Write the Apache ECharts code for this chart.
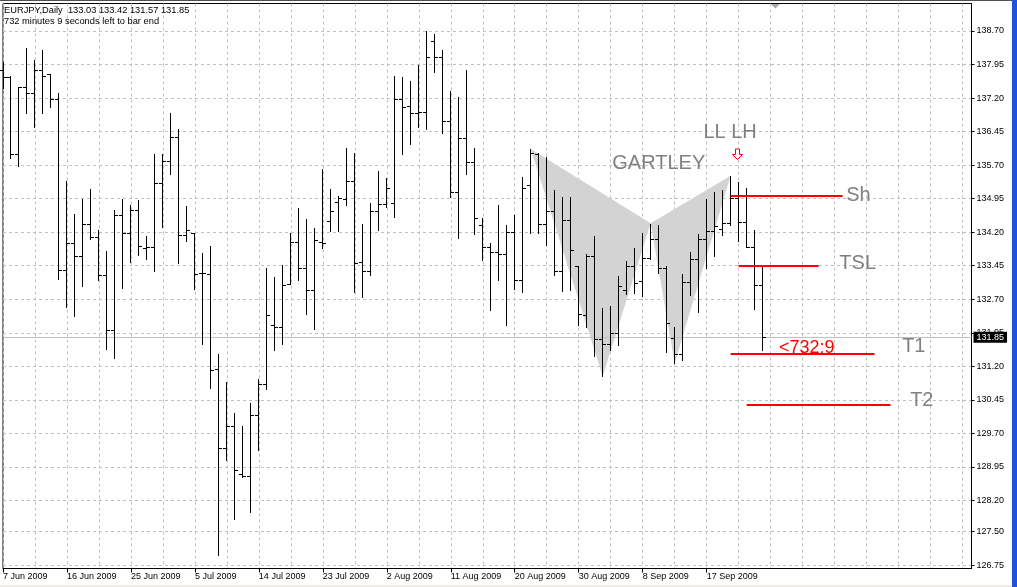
<!DOCTYPE html>
<html><head><meta charset="utf-8">
<script src="https://cdn.jsdelivr.net/npm/echarts@6/dist/echarts.min.js"></script>
<style>html,body{margin:0;padding:0;background:#fff;overflow:hidden}#c{width:1017px;height:587px}</style>
</head><body><div id="c"></div>
<script>
// ---------------- data ----------------
const symbolName = 'EURJPY,Daily';
const countdownText = '732 minutes 9 seconds left to bar end';
const dateLabels = ['7 Jun 2009','16 Jun 2009','25 Jun 2009','5 Jul 2009','14 Jul 2009','23 Jul 2009',
  '2 Aug 2009','11 Aug 2009','20 Aug 2009','30 Aug 2009','8 Sep 2009','17 Sep 2009'];
const barOpen = [
137.83,137.68,135.95,137.44,137.31,137.83,137.74,137.18,133.35,133.96,
133.66,134.39,134.09,133.25,132.02,134.58,134.19,134.69,133.84,133.87,
135.30,135.80,136.32,134.13,134.19,133.29,133.27,131.13,129.38,129.87,
128.79,128.75,130.12,130.81,132.12,132.09,133.05,133.97,133.40,132.90,
133.98,134.45,134.87,134.95,135.34,133.53,133.33,134.68,134.84,134.86,
137.19,137.02,136.86,136.89,138.47,138.11,136.68,135.11,136.31,135.76,
134.37,133.86,133.75,133.72,134.21,133.12,135.25,135.96,134.39,134.67,
133.33,134.48,133.44,132.34,133.66,131.82,131.71,131.95,132.90,133.45,
133.10,133.62,134.04,133.39,131.83,131.48,133.09,133.60,134.04,134.23,
134.27,134.40,134.96,134.42,133.86,133.03];
const barHigh = [
138.01,137.69,137.44,138.31,138.05,138.27,137.74,137.31,135.34,134.60,
134.95,135.16,134.24,133.77,134.69,134.95,134.80,134.92,134.11,135.95,
135.95,136.87,136.51,134.78,134.19,133.74,133.89,131.48,130.86,130.15,
129.87,130.39,130.92,133.40,133.20,133.46,134.18,134.73,134.49,134.30,
135.61,135.16,135.01,136.08,135.97,134.39,134.86,135.57,135.42,137.69,
137.66,137.58,137.94,138.70,138.63,138.27,137.36,137.23,137.83,136.08,
134.51,133.95,134.80,134.36,134.58,135.44,136.06,135.98,135.89,135.14,
134.99,134.99,133.44,133.71,134.11,132.51,132.54,133.21,133.55,133.84,
134.19,134.39,134.36,133.44,132.07,133.27,133.76,134.17,134.95,135.10,
135.14,135.46,135.33,135.18,134.26,133.42];
const barLow = [
137.42,135.85,135.68,136.87,136.56,136.87,137.01,133.16,132.53,132.32,
132.99,134.04,133.12,131.58,131.39,132.95,133.53,133.68,133.60,133.33,
134.32,135.51,133.50,134.01,132.92,131.69,130.71,126.97,129.10,127.78,
128.73,127.95,129.33,130.70,131.56,131.69,133.05,133.12,132.36,132.04,
133.84,134.22,134.23,134.80,132.86,132.75,133.25,134.26,134.77,134.54,
135.95,136.17,136.56,136.50,137.79,136.42,134.99,134.06,135.51,134.17,
133.57,132.45,133.12,132.12,132.92,132.86,134.18,134.18,133.91,133.24,
132.89,132.90,132.12,132.08,131.43,130.98,131.57,131.67,132.81,132.83,
132.77,133.61,133.29,131.52,131.27,131.35,132.79,132.42,133.39,133.66,
134.13,134.36,134.01,133.86,132.49,131.57];
const barClose = [
137.68,135.95,137.44,137.31,137.83,137.69,137.18,133.35,133.96,133.66,
134.39,134.09,133.25,132.02,134.58,134.19,134.69,133.90,133.87,135.30,
135.80,136.32,134.13,134.26,133.27,133.28,131.11,129.38,129.87,128.89,
128.75,130.12,130.81,132.34,132.09,133.01,133.97,133.40,132.90,134.02,
133.95,134.67,134.96,135.34,133.51,133.33,134.68,134.84,135.18,137.19,
136.99,136.86,136.89,138.12,138.11,136.68,135.11,136.31,135.76,134.51,
133.86,133.75,133.72,134.21,133.12,135.18,135.98,134.39,134.67,133.33,
134.48,133.80,132.36,133.66,131.82,131.71,131.95,133.00,133.45,133.07,
133.62,134.04,133.39,132.17,131.48,133.09,133.60,134.04,134.23,134.34,
134.40,134.96,134.42,133.86,133.01,131.85];
const priceTicks = [126.75,127.50,128.20,128.95,129.70,130.45,131.20,131.95,132.70,
  133.45,134.20,134.95,135.70,136.45,137.20,137.95,138.70];
// Gartley pattern points X, A, B, C, D (bar index, price)
const patternBars = [66, 75, 81, 84, 91];
const patternPrices = [136.06, 130.98, 134.40, 131.27, 135.46];
// red level lines
const levelFrom = [91, 92, 91, 93];
const levelTo = [105, 102, 109, 111];
const levelPrice = [135.02, 133.44, 131.48, 130.34];
// text notes
const noteText = ['GARTLEY', 'LL LH', 'Sh', 'TSL', 'T1', 'T2', '<732:9'];
const noteBar = [76.2, 87.6, 105.45, 104.6, 112.45, 113.45, 97.05];
const notePrice = [135.74, 136.43, 135.01, 133.49, 131.64, 130.44, 131.62];
const signalBar = [91.8];
const signalPrice = [135.96];
const shiftBar = [96.6];

// ---------------- chart ----------------
const FF = '"Liberation Sans", Arial, sans-serif';
const Y_MIN = 126.678, Y_MAX = 139.315, X_MAX = 121.125;
const last = barClose.length - 1;
const header = symbolName + '  ' + [barOpen[last], barHigh[last], barLow[last], barClose[last]].map(v => v.toFixed(2)).join(' ')
  + '\n' + countdownText;

const ohlcData = barOpen.map((o, i) => [i, o, barHigh[i], barLow[i], barClose[i]]);
const triData = [
  [patternBars[0], patternPrices[0], patternBars[1], patternPrices[1], patternBars[2], patternPrices[2]],
  [patternBars[2], patternPrices[2], patternBars[3], patternPrices[3], patternBars[4], patternPrices[4]]
];
const levelData = levelPrice.map((p, i) => [levelFrom[i], levelTo[i], p]);
const noteData = noteText.map((t, i) => [noteBar[i], notePrice[i]]);
const tickBars = dateLabels.map((d, i) => i * 8);

const chart = echarts.init(document.getElementById('c'), null, { renderer: 'canvas' });
const option = {
  animation: false,
  backgroundColor: '#ffffff',
  title: {
    text: header, left: 4, top: 5, padding: 0,
    textStyle: { fontFamily: FF, fontSize: 9.3, fontWeight: 'normal', color: '#000', lineHeight: 11 }
  },
  grid: { left: 2.5, right: 45.5, top: 3.5, bottom: 18.5, show: true, borderColor: '#000', borderWidth: 1, containLabel: false },
  xAxis: [{
    type: 'value', min: 0, max: X_MAX, interval: 4,
    axisLine: { show: true, onZero: false, lineStyle: { color: '#000', width: 1 } },
    axisTick: { show: false },
    axisLabel: {
      show: true, align: 'left', margin: 4, fontFamily: FF, fontSize: 9, color: '#000',
      showMinLabel: true, showMaxLabel: true,
      formatter: v => (v % 8 === 0 && dateLabels[v / 8]) ? dateLabels[v / 8] : ''
    },
    splitLine: { show: true, lineStyle: { color: '#c0c0c0', type: [3, 3], width: 1 } }
  }, {
    type: 'value', min: 0, max: X_MAX, interval: 8, position: 'bottom',
    axisLine: { show: false },
    axisTick: { show: true, length: 4, customValues: tickBars, lineStyle: { color: '#000' } },
    axisLabel: { show: false }, splitLine: { show: false }
  }],
  yAxis: {
    type: 'value', position: 'right', min: Y_MIN, max: Y_MAX, scale: true,
    axisLine: { show: true, onZero: false, lineStyle: { color: '#000', width: 1 } },
    axisTick: { show: true, length: 3, customValues: priceTicks, lineStyle: { color: '#000' } },
    axisLabel: { show: true, customValues: priceTicks, margin: 5, fontFamily: FF, fontSize: 9, color: '#000',
      formatter: v => v.toFixed(2) },
    splitLine: { show: true, lineStyle: { color: '#c0c0c0', type: [3, 3], width: 1 } }
  },
  series: [
    { // Gartley pattern triangles
      type: 'custom', z: 1, silent: true,
      data: triData,
      encode: { x: [0, 2, 4], y: [1, 3, 5] },
      renderItem: (params, api) => {
        const pts = [0, 2, 4].map(k => api.coord([api.value(k), api.value(k + 1)]));
        return { type: 'polygon', shape: { points: pts }, style: { fill: '#d3d3d3', stroke: 'none' } };
      }
    },
    { // OHLC bars
      type: 'custom', z: 3, silent: true,
      data: ohlcData,
      encode: { x: 0, y: [1, 2, 3, 4] },
      renderItem: (params, api) => {
        const x = api.value(0);
        const o = api.coord([x, api.value(1)]);
        const h = api.coord([x, api.value(2)]);
        const l = api.coord([x, api.value(3)]);
        const c = api.coord([x, api.value(4)]);
        const px = Math.floor(h[0]);
        const st = { stroke: '#000', lineWidth: 1 };
        const oy = Math.round(o[1]) + 0.5, cy = Math.round(c[1]) + 0.5;
        return { type: 'group', children: [
          { type: 'line', shape: { x1: px + 0.5, y1: Math.round(h[1]), x2: px + 0.5, y2: Math.round(l[1]) + 1 }, style: st },
          { type: 'line', shape: { x1: px - 3, y1: oy, x2: px, y2: oy }, style: st },
          { type: 'line', shape: { x1: px + 1, y1: cy, x2: px + 4, y2: cy }, style: st }
        ] };
      },
      markLine: {
        silent: true, symbol: 'none', animation: false, z: 2,
        lineStyle: { color: '#c0c0c0', type: 'solid', width: 1 },
        label: { show: true, position: 'end', distance: 2, formatter: barClose[last].toFixed(2),
          color: '#fff', backgroundColor: '#000', padding: [1, 3, 1, 3], fontFamily: FF, fontSize: 9 },
        data: [{ yAxis: barClose[last] }]
      }
    },
    { // red level lines
      type: 'custom', z: 4, silent: true,
      data: levelData,
      encode: { x: [0, 1], y: 2 },
      renderItem: (params, api) => {
        const a = api.coord([api.value(0), api.value(2)]);
        const b = api.coord([api.value(1), api.value(2)]);
        const y = Math.round(a[1]);
        return { type: 'line', shape: { x1: a[0], y1: y, x2: b[0], y2: y }, style: { stroke: '#ff0000', lineWidth: 2 } };
      }
    },
    { // text notes
      type: 'custom', z: 5, silent: true,
      data: noteData,
      encode: { x: 0, y: 1 },
      renderItem: (params, api) => {
        const p = api.coord([api.value(0), api.value(1)]);
        const t = noteText[params.dataIndex];
        const isTimer = t.charAt(0) === '<';
        return { type: 'text', x: p[0], y: p[1], style: {
          text: t, fill: isTimer ? '#ff0000' : '#808080', fontFamily: FF, fontSize: isTimer ? 18 : 20,
          align: 'left', verticalAlign: 'middle' } };
      }
    },
    { // signal arrow
      type: 'custom', z: 6, silent: true,
      data: signalBar.map((b, i) => [b, signalPrice[i]]),
      encode: { x: 0, y: 1 },
      renderItem: (params, api) => {
        const p = api.coord([api.value(0), api.value(1)]);
        const cx = Math.round(p[0]) + 0.5, cy = Math.round(p[1]) + 0.5;
        const rel = [[-2, -5.5], [2, -5.5], [2, 0], [5, 0], [0, 5], [-5, 0], [-2, 0]];
        return { type: 'polygon', shape: { points: rel.map(q => [cx + q[0], cy + q[1]]) },
          style: { fill: '#fff', stroke: '#ff0000', lineWidth: 1 } };
      }
    },
    { // chart shift marker at the top
      type: 'custom', z: 6, silent: true,
      data: shiftBar.map(b => [b, Y_MAX]),
      encode: { x: 0, y: 1 },
      renderItem: (params, api) => {
        const p = api.coord([api.value(0), api.value(1)]);
        const cx = p[0], cy = p[1];
        return { type: 'polygon', shape: { points: [[cx - 4.5, cy + 0.5], [cx + 4.5, cy + 0.5], [cx, cy + 5]] },
          style: { fill: '#a9a9a9', stroke: 'none' } };
      }
    }
  ],
  graphic: [
    { type: 'rect', shape: { x: 0, y: 0, width: 1017, height: 1 }, style: { fill: '#505050' }, silent: true },
    { type: 'rect', shape: { x: 1012, y: 0, width: 5, height: 587 }, style: { fill: '#1f52d8' }, silent: true },
    { type: 'rect', shape: { x: 0, y: 585, width: 1012, height: 2 }, style: { fill: '#efeee6' }, silent: true }
  ]
};
chart.setOption(option);
</script>
</body></html>
